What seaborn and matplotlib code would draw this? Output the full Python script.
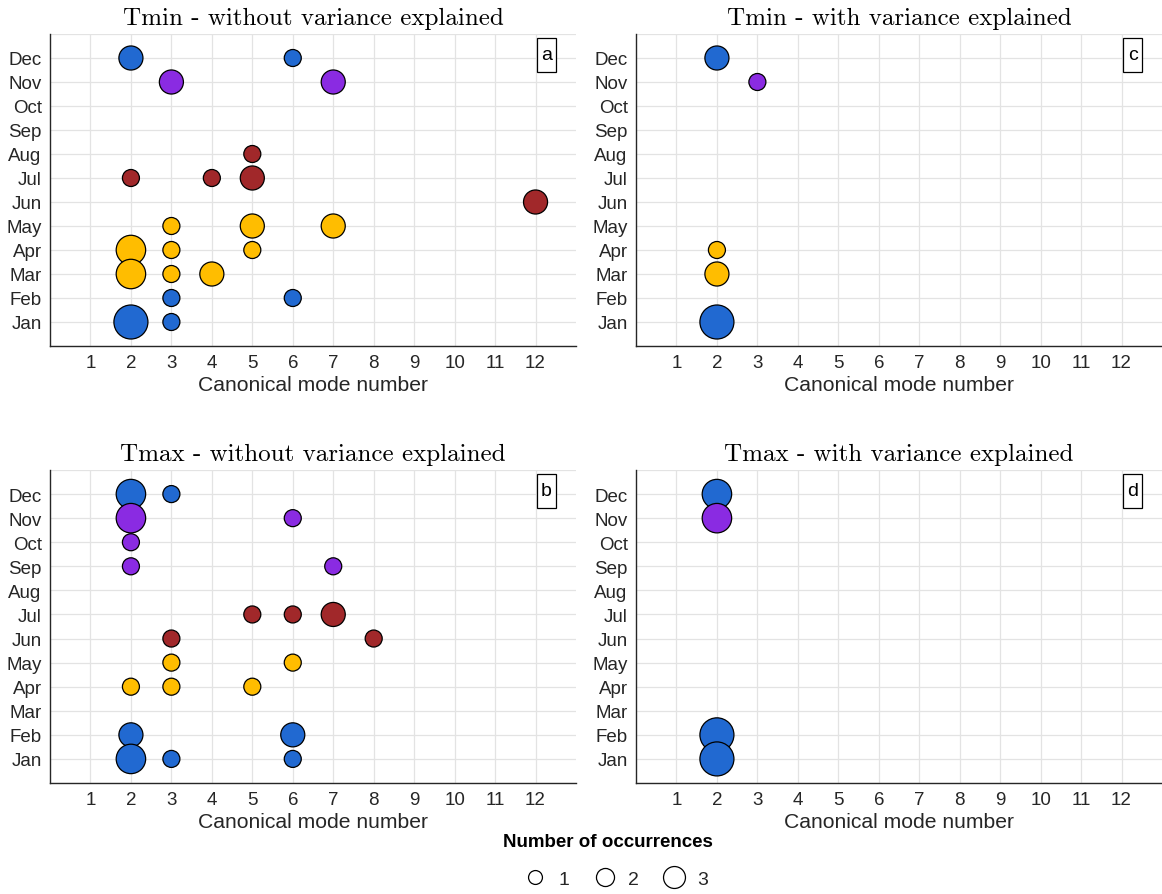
import matplotlib
matplotlib.use("Agg")
import matplotlib.pyplot as plt
import numpy as np
import pandas as pd
import seaborn as sns
from matplotlib.lines import Line2D
from matplotlib.patches import Rectangle

# ---------------------------------------------------------------- data
MONTHS = ["Jan", "Feb", "Mar", "Apr", "May", "Jun",
          "Jul", "Aug", "Sep", "Oct", "Nov", "Dec"]
MODES = list(range(1, 13))
LEGEND_COUNTS = [1, 2, 3]

SEASON_OF_MONTH = {
    "Dec": "winter", "Jan": "winter", "Feb": "winter",
    "Mar": "spring", "Apr": "spring", "May": "spring",
    "Jun": "summer", "Jul": "summer", "Aug": "summer",
    "Sep": "autumn", "Oct": "autumn", "Nov": "autumn",
}
SEASON_COLORS = {
    "winter": "#2169d1",
    "spring": "#ffbd00",
    "summer": "#a1282a",
    "autumn": "#8a2be2",
}

# Tmin - without variance explained
tmin_raw_month = ["Dec", "Dec", "Nov", "Nov", "Aug", "Jul", "Jul", "Jul", "Jun",
                  "May", "May", "May", "Apr", "Apr", "Apr", "Mar", "Mar", "Mar",
                  "Feb", "Feb", "Jan", "Jan"]
tmin_raw_mode = [2, 6, 3, 7, 5, 2, 4, 5, 12,
                 3, 5, 7, 2, 3, 5, 2, 3, 4,
                 3, 6, 2, 3]
tmin_raw_count = [2, 1, 2, 2, 1, 1, 1, 2, 2,
                  1, 2, 2, 3, 1, 1, 3, 1, 2,
                  1, 1, 4, 1]

# Tmin - with variance explained
tmin_var_month = ["Dec", "Nov", "Apr", "Mar", "Jan"]
tmin_var_mode = [2, 3, 2, 2, 2]
tmin_var_count = [2, 1, 1, 2, 4]

# Tmax - without variance explained
tmax_raw_month = ["Dec", "Dec", "Nov", "Nov", "Oct", "Sep", "Sep",
                  "Jul", "Jul", "Jul", "Jun", "Jun", "May", "May",
                  "Apr", "Apr", "Apr", "Feb", "Feb", "Jan", "Jan", "Jan"]
tmax_raw_mode = [2, 3, 2, 6, 2, 2, 7,
                 5, 6, 7, 3, 8, 3, 6,
                 2, 3, 5, 2, 6, 2, 3, 6]
tmax_raw_count = [3, 1, 3, 1, 1, 1, 1,
                  1, 1, 2, 1, 1, 1, 1,
                  1, 1, 1, 2, 2, 3, 1, 1]

# Tmax - with variance explained
tmax_var_month = ["Dec", "Nov", "Feb", "Jan"]
tmax_var_mode = [2, 2, 2, 2]
tmax_var_count = [3, 3, 4, 4]

PANELS = [
    ("Tmin - without variance explained", "a", tmin_raw_month, tmin_raw_mode, tmin_raw_count),
    ("Tmin - with variance explained", "c", tmin_var_month, tmin_var_mode, tmin_var_count),
    ("Tmax - without variance explained", "b", tmax_raw_month, tmax_raw_mode, tmax_raw_count),
    ("Tmax - with variance explained", "d", tmax_var_month, tmax_var_mode, tmax_var_count),
]

# ---------------------------------------------------------------- style
sns.set_style("white")
plt.rcParams["font.family"] = ["Liberation Sans", "DejaVu Sans"]

INK = "#262626"
GRID = "#e3e3e3"
AREA_PER_COUNT = 150.0  # marker area (pt^2) per occurrence

fig = plt.figure(figsize=(11.62, 8.95), dpi=100)

W, H = 1162.0, 895.0
ax_w = 526 / W
rects = [
    (50 / W, 1 - 347 / H, ax_w, 312 / H),
    (636 / W, 1 - 347 / H, ax_w, 312 / H),
    (50 / W, 1 - 784 / H, ax_w, 313 / H),
    (636 / W, 1 - 784 / H, ax_w, 313 / H),
]

for rect, (title, tag, months, modes, counts) in zip(rects, PANELS):
    ax = fig.add_axes(rect)
    df = pd.DataFrame({
        "mode": modes,
        "month": [MONTHS.index(m) + 1 for m in months],
        "season": [SEASON_OF_MONTH[m] for m in months],
        "count": counts,
    })
    ax.set_axisbelow(True)
    sns.scatterplot(
        data=df, x="mode", y="month", hue="season", palette=SEASON_COLORS,
        size="count", sizes=(AREA_PER_COUNT, 4 * AREA_PER_COUNT), size_norm=(1, 4),
        edgecolor="black", linewidth=0.9, alpha=1.0, legend=False, ax=ax,
        zorder=3,
    )

    ax.set_xlim(0, 13)
    ax.set_ylim(0, 13)
    ax.set_xticks(MODES)
    ax.set_xticklabels([str(m) for m in MODES])
    ax.set_yticks(range(0, 14))
    ax.set_yticklabels([""] + MONTHS + [""])
    ax.grid(True, color=GRID, linewidth=0.9)
    ax.tick_params(direction="in", length=4.5, width=0.9, colors=INK,
                   labelsize=13.5, pad=6)
    for side in ("top", "right"):
        ax.spines[side].set_visible(False)
    for side in ("left", "bottom"):
        ax.spines[side].set_color(INK)
        ax.spines[side].set_linewidth(1.0)

    ax.set_xlabel("Canonical mode number", fontsize=15.2, color=INK, labelpad=3)
    ax.set_ylabel("")
    ax.set_title(title, fontsize=18, family="cmr10", color="black", pad=7)

    # panel tag in a framed box
    ax.add_patch(Rectangle((0.926, 0.878), 0.036, 0.109, transform=ax.transAxes,
                           facecolor="white", edgecolor="black", linewidth=0.9,
                           zorder=5, clip_on=False))
    ax.text(0.944, 0.933, tag, transform=ax.transAxes, ha="center", va="center",
            fontsize=14, color="black", zorder=6)

# ---------------------------------------------------------------- legend
fig.text(608 / W, 1 - 843 / H, "Number of occurrences", ha="center", va="center",
         fontsize=13.5, fontweight="bold", color="black")

legend_sizes = [10.0, 13.0, 15.8]
handles = [
    Line2D([], [], linestyle="none", marker="o", markersize=s,
           markerfacecolor="white", markeredgecolor="black", markeredgewidth=0.9)
    for s in legend_sizes
]
fig.legend(handles, [str(c) for c in LEGEND_COUNTS], ncol=3,
           loc="center", bbox_to_anchor=(612 / W, 1 - 880 / H),
           frameon=False, fontsize=14,
           handletextpad=0.2, columnspacing=0.8, borderpad=0.1)

fig.savefig("out.png", dpi=100)
